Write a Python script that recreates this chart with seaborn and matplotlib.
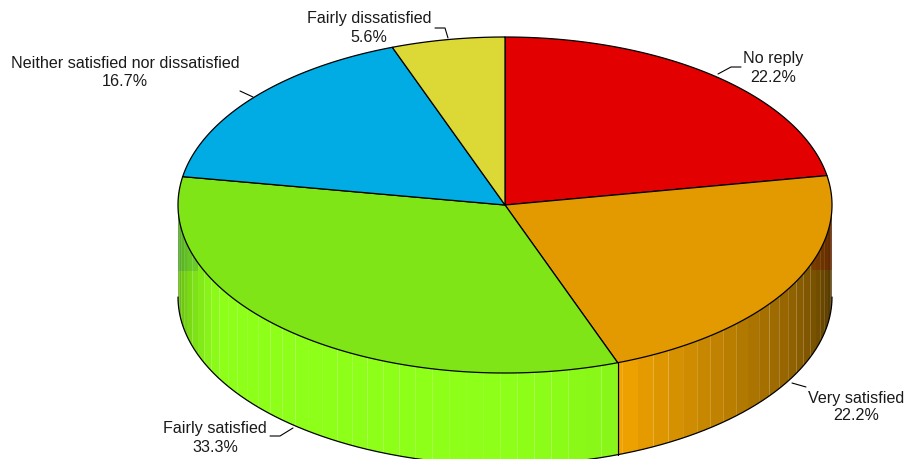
import numpy as np
import matplotlib
matplotlib.use("Agg")
import matplotlib.pyplot as plt
import seaborn as sns

categories = ["No reply", "Very satisfied", "Fairly satisfied",
              "Neither satisfied nor dissatisfied", "Fairly dissatisfied"]
values = [22.2, 22.2, 33.3, 16.7, 5.6]
colors = ["#E30000", "#E39A00", "#7FE516", "#00ACE3", "#DCD835"]

# Where each label sits, and its leader line (figure pixels)
label_xy = [(773, 68), (856, 407), (215, 438), (125, 72), (369, 28)]
leaders = [
    [(718, 74), (731, 67), (741, 67)],
    [(792, 383), (806, 387)],
    [(293, 428), (280, 436), (270, 436)],
    [(253, 97), (240, 91)],
    [(448, 38), (445, 28), (435, 28)],
]

CX, CY, RX, RY, DEPTH = 505, 205, 327, 168, 92
STEP = 3.0
SHADE_ANGLE = [90, 105, 120, 140, 160, 180, 240, 255, 270]
SHADE_VALUE = [0.30, 0.48, 0.65, 0.85, 1.07, 1.12, 1.12, 0.95, 0.72]

sns.set_theme(style="white")
plt.rcParams["font.family"] = ["Liberation Sans", "DejaVu Sans"]
palette = sns.color_palette(colors)


def rim(theta, drop=0.0):
    t = np.radians(theta)
    return CX + RX * np.sin(t), CY - RY * np.cos(t) + drop


def shaded(color, factor):
    return tuple(np.clip(np.array(color) * factor, 0, 1))


fig = plt.figure(figsize=(9.06, 4.59), dpi=100)
ax = fig.add_axes([0, 0, 1, 1])
ax.set_xlim(0, 906)
ax.set_ylim(459, 0)
ax.axis("off")

edges = np.concatenate([[0], np.cumsum(values) / np.sum(values) * 360])

# Front wall, built from narrow shaded strips
for color, a0, a1 in zip(palette, edges[:-1], edges[1:]):
    lo, hi = max(a0, 90), min(a1, 270)
    if lo >= hi:
        continue
    stops = np.unique(np.r_[np.arange(lo, hi, STEP), hi])
    for s0, s1 in zip(stops[:-1], stops[1:]):
        arc = np.linspace(s0, s1, 5)
        x, y = rim(arc)
        _, yb = rim(arc, DEPTH)
        f = np.interp((s0 + s1) / 2, SHADE_ANGLE, SHADE_VALUE)
        ax.fill(np.r_[x, x[::-1]], np.r_[y, yb[::-1]], color=shaded(color, f),
                lw=0, zorder=2)

# Faint show-through of the back wall at both outer ends
for idx, mirror, span, alpha in [(0, edges[1], (70, 90), 0.26), (3, edges[3], (270, 290), 0.16)]:
    stops = np.arange(span[0], span[1], STEP)
    bottom = rim(mirror, DEPTH)[1] + 2
    for s in stops:
        x0 = rim(s)[0]
        x1 = rim(min(s + STEP, span[1]))[0]
        ax.fill([x0, x1, x1, x0], [CY, CY, bottom, bottom],
                color=shaded(palette[idx], 0.55), alpha=alpha, lw=0, zorder=3)

# Bottom outline and wall edge at the front
arc = np.linspace(90, 270, 400)
ax.plot(*rim(arc, DEPTH), color="black", lw=0.9, zorder=4)
for a in edges[1:-1]:
    if 90 < a < 270:
        x, y = rim(a)
        ax.plot([x, x], [y, y + DEPTH], color="black", lw=0.9, zorder=4)

# Top face
for color, a0, a1 in zip(palette, edges[:-1], edges[1:]):
    arc = np.linspace(a0, a1, 200)
    x, y = rim(arc)
    ax.fill(np.r_[CX, x], np.r_[CY, y], facecolor=color, edgecolor="black",
            lw=0.9, joinstyle="round", zorder=5)

# Labels and leaders
for name, val, xy, pts in zip(categories, values, label_xy, leaders):
    ax.text(xy[0], xy[1], f"{name}\n{val:.1f}%", ha="center", va="center",
            fontsize=11.6, color="#1a1a1a", linespacing=1.25, zorder=6)
    px, py = zip(*pts)
    ax.plot(px, py, color="black", lw=0.8, zorder=6)

fig.savefig("out.png", dpi=100, facecolor="white")
